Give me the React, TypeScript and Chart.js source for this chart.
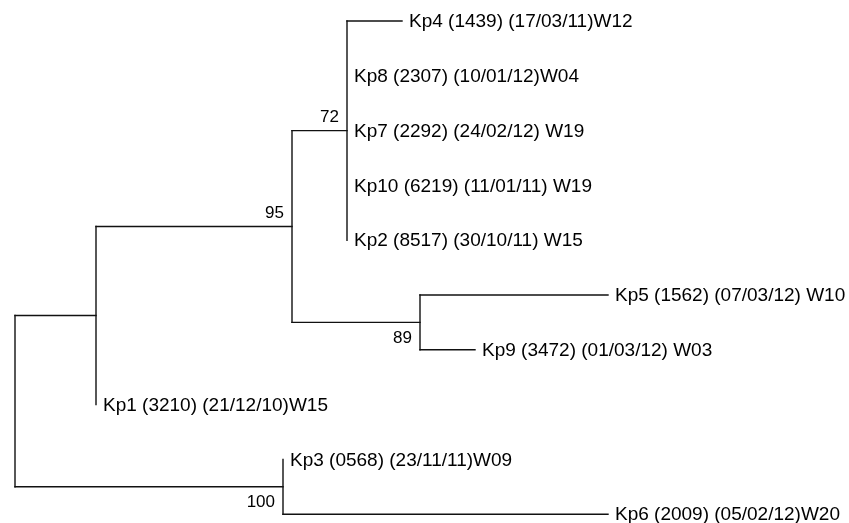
import React, { useEffect, useRef } from "react";
import { Chart, registerables } from "chart.js";

Chart.register(...registerables);

// Leaves, in top-to-bottom order
const leafLabels = [
  "Kp4 (1439) (17/03/11)W12",
  "Kp8 (2307) (10/01/12)W04",
  "Kp7 (2292) (24/02/12) W19",
  "Kp10 (6219) (11/01/11) W19",
  "Kp2 (8517) (30/10/11) W15",
  "Kp5 (1562) (07/03/12) W10",
  "Kp9 (3472) (01/03/12) W03",
  "Kp1 (3210) (21/12/10)W15",
  "Kp3 (0568) (23/11/11)W09",
  "Kp6 (2009) (05/02/12)W20",
];
// cumulative distance from root for each leaf
const leafDepth = [0.387, 0.332, 0.332, 0.332, 0.332, 0.593, 0.46, 0.081, 0.268, 0.593];
// parent internal node of each leaf
const leafParent = ["C", "C", "C", "C", "C", "D", "D", "A", "E", "E"];

// Internal nodes
const nodeIds = ["root", "A", "B", "C", "D", "E"];
const nodeDepth = [0, 0.081, 0.277, 0.332, 0.405, 0.268];
const nodeParent = [null, "root", "A", "B", "B", "root"];
const nodeSupport = [null, null, 95, 72, 89, 100];
// where the support label sits relative to the node's stem branch
const nodeSupportPos = [null, null, "above", "above", "below", "below"];

type Seg = { x1: number; y1: number; x2: number; y2: number };

function buildTree() {
  const ys: Record<string, number> = {};
  const depth: Record<string, number> = {};
  nodeIds.forEach((id, i) => (depth[id] = nodeDepth[i]));
  const children: Record<string, { y: number; depth: number; id: string }[]> = {};
  nodeIds.forEach((id) => (children[id] = []));
  leafLabels.forEach((_, i) => {
    children[leafParent[i]].push({ y: i, depth: leafDepth[i], id: "leaf" + i });
  });
  // resolve internal node y recursively
  const resolve = (id: string): number => {
    if (ys[id] !== undefined) return ys[id];
    const kids: number[] = children[id].map((c) => c.y);
    nodeIds.forEach((nid, j) => {
      if (nodeParent[j] === id) kids.push(resolve(nid));
    });
    const y = (Math.min(...kids) + Math.max(...kids)) / 2;
    ys[id] = y;
    return y;
  };
  nodeIds.forEach((id) => resolve(id));

  const segs: Seg[] = [];
  // leaf horizontal branches
  leafLabels.forEach((_, i) => {
    const p = leafParent[i];
    if (leafDepth[i] > depth[p]) segs.push({ x1: depth[p], y1: i, x2: leafDepth[i], y2: i });
  });
  // internal horizontal branches
  nodeIds.forEach((id, j) => {
    const p = nodeParent[j];
    if (p) segs.push({ x1: depth[p], y1: ys[id], x2: depth[id], y2: ys[id] });
  });
  // vertical connectors
  nodeIds.forEach((id) => {
    const kids: number[] = children[id].map((c) => c.y);
    nodeIds.forEach((nid, j) => {
      if (nodeParent[j] === id) kids.push(ys[nid]);
    });
    segs.push({ x1: depth[id], y1: Math.min(...kids), x2: depth[id], y2: Math.max(...kids) });
  });
  return { segs, ys, depth };
}

export default function App() {
  const ref = useRef<HTMLCanvasElement>(null);
  useEffect(() => {
    if (!ref.current) return;
    const { segs, ys, depth } = buildTree();

    const labelPlugin = {
      id: "treeLabels",
      afterDatasetsDraw(chart: any) {
        const ctx = chart.ctx;
        const xs = chart.scales.x;
        const yS = chart.scales.y;
        ctx.save();
        ctx.fillStyle = "#000";
        ctx.font = '19px "Liberation Sans", Arial, sans-serif';
        ctx.textAlign = "left";
        ctx.textBaseline = "middle";
        leafLabels.forEach((lab, i) => {
          const px = xs.getPixelForValue(leafDepth[i]);
          const py = yS.getPixelForValue(i);
          ctx.fillText(lab, px + 7, py + 1);
        });
        ctx.font = '17px "Liberation Sans", Arial, sans-serif';
        ctx.textAlign = "right";
        nodeIds.forEach((id, j) => {
          const s = nodeSupport[j];
          if (s == null) return;
          const px = xs.getPixelForValue(depth[id]);
          const py = yS.getPixelForValue(ys[id]);
          if (nodeSupportPos[j] === "above") {
            ctx.textBaseline = "bottom";
            ctx.fillText(String(s), px - 8, py - 5);
          } else {
            ctx.textBaseline = "top";
            ctx.fillText(String(s), px - 8, py + 7);
          }
        });
        ctx.restore();
      },
    };

    const chart = new Chart(ref.current, {
      type: "line",
      data: {
        datasets: segs.map((s) => ({
          data: [
            { x: s.x1, y: s.y1 },
            { x: s.x2, y: s.y2 },
          ],
          borderColor: "#111",
          borderWidth: 1.4,
          borderCapStyle: "square" as const,
          pointRadius: 0,
          fill: false,
          tension: 0,
        })),
      },
      options: {
        animation: false,
        responsive: false,
        devicePixelRatio: 1,
        events: [],
        layout: { padding: 0 },
        plugins: { legend: { display: false }, tooltip: { enabled: false } },
        scales: {
          x: { type: "linear", min: -0.015, max: 0.834, display: false },
          y: { type: "linear", min: -0.383, max: 9.161, reverse: true, display: false },
        },
      },
      plugins: [labelPlugin],
    });
    return () => chart.destroy();
  }, []);

  return (
    <div style={{ position: "absolute", left: 0, top: 0, width: 849, height: 523, background: "#fff" }}>
      <canvas ref={ref} width={849} height={523} />
    </div>
  );
}
